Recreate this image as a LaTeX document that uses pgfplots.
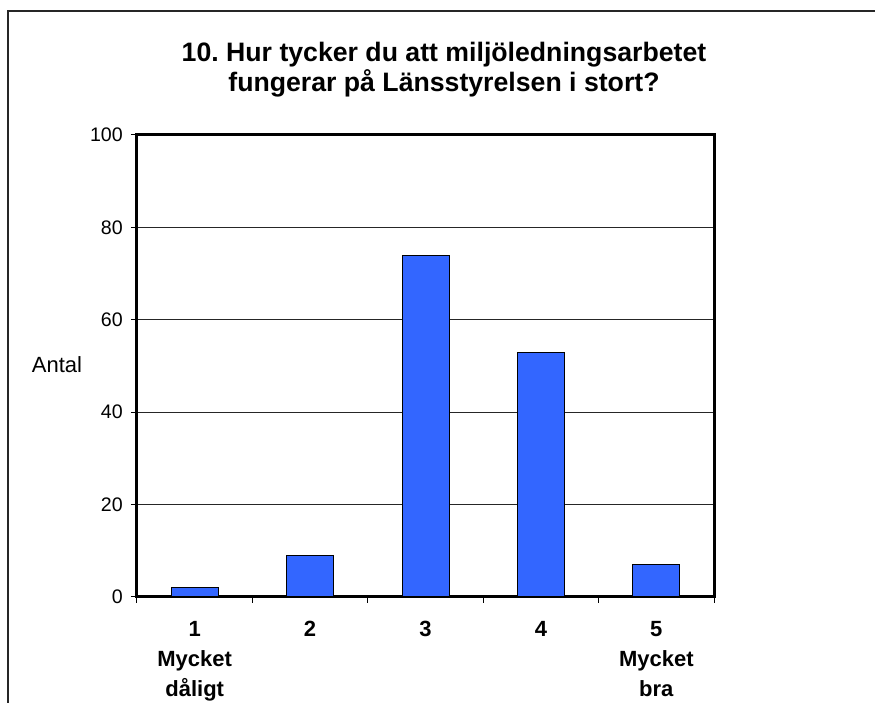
\documentclass[border=0pt]{standalone}
\usepackage{pgfplots}
\pgfplotsset{compat=1.18}
\usepackage{fontspec}
\setmainfont{Liberation Sans}
\definecolor{barblue}{RGB}{51,102,255}
\frenchspacing
\begin{document}
\begin{tikzpicture}
\useasboundingbox (0,0) rectangle (656.25pt,527.25pt);
\draw[line width=1pt, black!85] (6pt,-2pt) -- (6pt,519pt) -- (660pt,519pt);
\node[font=\bfseries\fontsize{20}{24}\selectfont, anchor=base, inner sep=0pt] at (333pt,480.75pt) {10.\ Hur tycker du att miljöledningsarbetet};
\node[font=\bfseries\fontsize{20}{24}\selectfont, anchor=base, inner sep=0pt] at (333pt,458.25pt) {fungerar på Länsstyrelsen i stort?};
\begin{axis}[
  at={(102.75pt,79.5pt)}, anchor=south west,
  scale only axis, width=432.75pt, height=346.5pt,
  xmin=0.5, xmax=5.5, ymin=0, ymax=100,
  ytick={0,20,...,100},
  minor ytick={0,20,...,100},
  xtick={1,...,5},
  minor xtick={0.5,1.5,...,5.5},
  xticklabels={{1\\Mycket\\dåligt},2,3,4,{5\\Mycket\\bra}},
  major tick length=0pt, minor tick length=4.5pt,
  tick align=outside, xtick pos=bottom, ytick pos=left,
  minor tick style={line width=0.75pt, black},
  ymajorgrids, grid style={line width=0.75pt, black!85},
  axis line style={line width=2.25pt},
  /pgf/number format/assume math mode=true,
  xticklabel style={font=\bfseries\fontsize{16.5}{22.5}\selectfont, align=center, inner sep=0pt, yshift=-18pt},
  yticklabel style={font=\fontsize{14.7}{17}\selectfont, inner sep=0pt, xshift=-10.5pt},
  ylabel={Antal},
  ylabel style={rotate=-90, anchor=center, font=\fontsize{16.5}{19}\selectfont, at={(axis description cs:-0.1386,0.504)}},
]
\addplot[ybar, bar width=35.25pt, fill=barblue, draw=black, line width=0.75pt]
  coordinates {(1,2) (2,9) (3,74) (4,53) (5,7)};
\end{axis}
\end{tikzpicture}
\end{document}
